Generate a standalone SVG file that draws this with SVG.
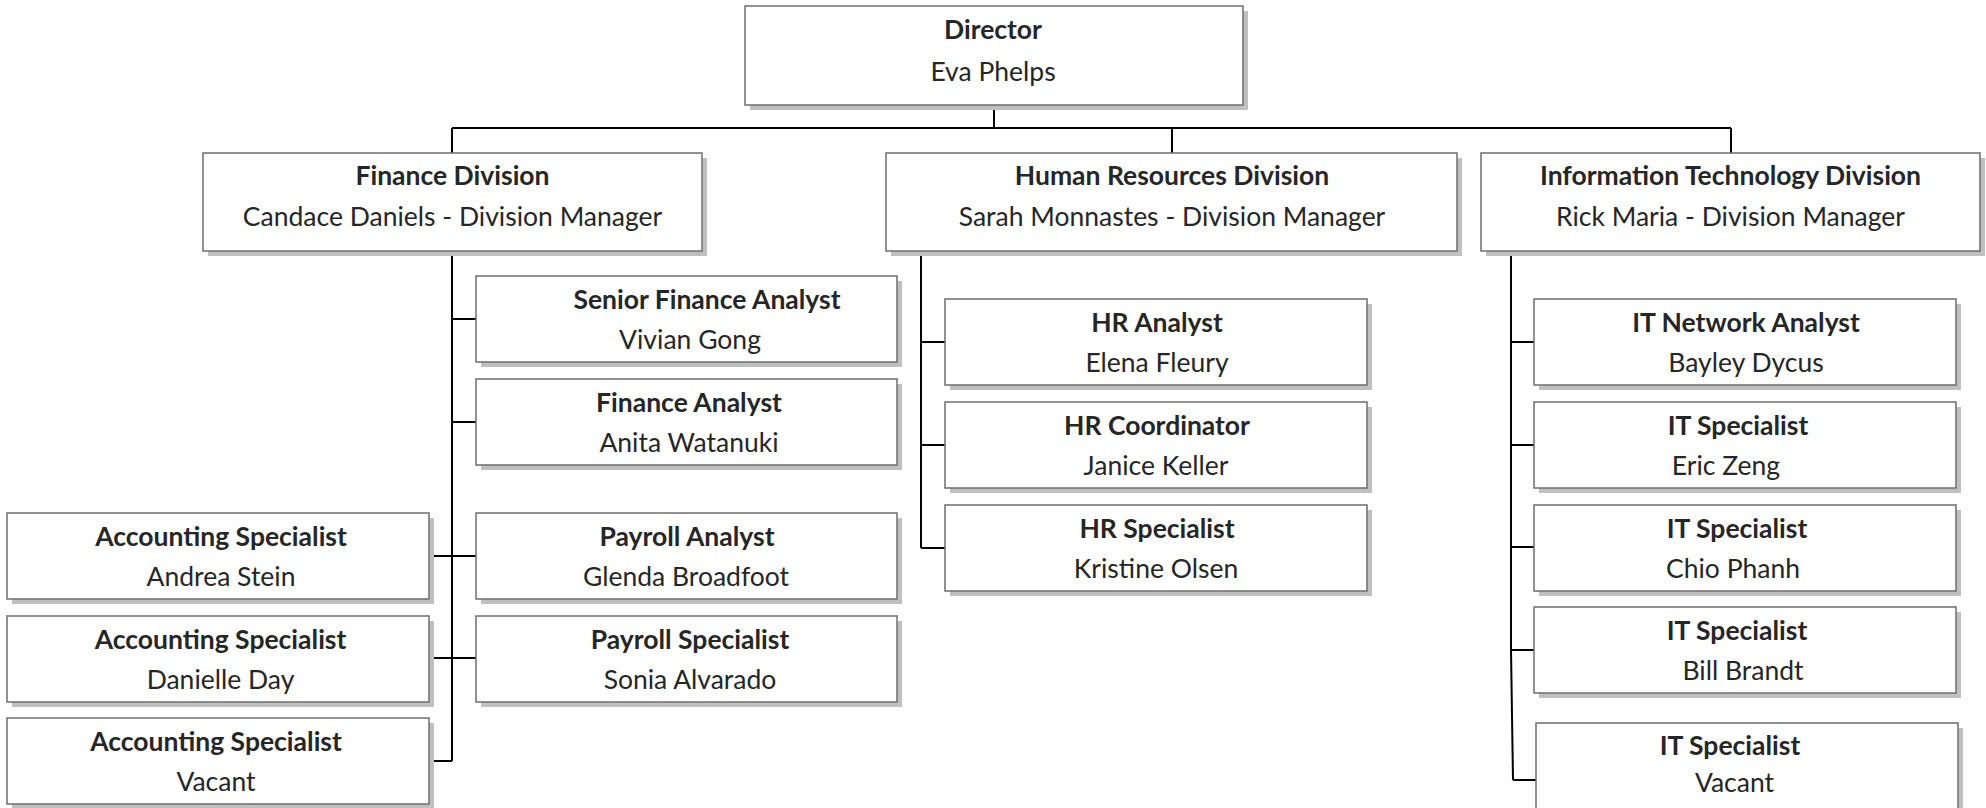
<svg xmlns="http://www.w3.org/2000/svg" width="1986" height="808" viewBox="0 0 1986 808">
<style>
.bx{fill:#fff;stroke:#6d6d6d;stroke-width:1.5}
.sh{fill:#c0c0c0}
.t{font-family:Lato,"Liberation Sans",sans-serif;font-size:26.5px;fill:#262626;text-anchor:middle}
.b{font-weight:bold}
.c{stroke:#000;stroke-width:2;fill:none}
</style>
<rect width="1986" height="808" fill="#fff"/>
<g id="connectors">
<path class="c" d="M994 105V128M452 128H1731M452 128V153M1172 128V153M1731 128V153"/>
<path class="c" d="M452 251V761M452 319H476M452 422H476M452 556H476M452 658H476M429 556H452M429 658H452M429 761H452"/>
<path class="c" d="M921 251V548M921 342H945M921 445H945M921 548H945"/>
<path class="c" d="M1511 251V650L1513 780M1511 342H1534M1511 445H1534M1511 547H1534M1511 650H1534M1513 780H1536"/>
</g>
<g id="director"><rect class="sh" x="750" y="11" width="498" height="99"/><rect class="bx" x="745" y="6" width="498" height="99"/><text class="t b" x="993" y="39">Director</text><text class="t" x="993" y="81">Eva Phelps</text></g>
<g id="finance"><rect class="sh" x="208" y="158" width="499" height="98"/><rect class="bx" x="203" y="153" width="499" height="98"/><text class="t b" x="452.5" y="185">Finance Division</text><text class="t" x="452.5" y="226">Candace Daniels - Division Manager</text></g>
<g id="hr"><rect class="sh" x="891" y="158" width="571" height="98"/><rect class="bx" x="886" y="153" width="571" height="98"/><text class="t b" x="1172" y="185">Human Resources Division</text><text class="t" x="1172" y="226">Sarah Monnastes - Division Manager</text></g>
<g id="it"><rect class="sh" x="1486" y="158" width="499" height="98"/><rect class="bx" x="1481" y="153" width="499" height="98"/><text class="t b" x="1730.5" y="185">Information Technology Division</text><text class="t" x="1730.5" y="226">Rick Maria - Division Manager</text></g>
<g id="senior-finance-analyst"><rect class="sh" x="481" y="281" width="421" height="86"/><rect class="bx" x="476" y="276" width="421" height="86"/><text class="t b" x="707" y="309">Senior Finance Analyst</text><text class="t" x="690" y="349">Vivian Gong</text></g>
<g id="finance-analyst"><rect class="sh" x="481" y="384" width="421" height="86"/><rect class="bx" x="476" y="379" width="421" height="86"/><text class="t b" x="689" y="412">Finance Analyst</text><text class="t" x="689" y="452">Anita Watanuki</text></g>
<g id="payroll-analyst"><rect class="sh" x="481" y="518" width="421" height="86"/><rect class="bx" x="476" y="513" width="421" height="86"/><text class="t b" x="687" y="546">Payroll Analyst</text><text class="t" x="686" y="586">Glenda Broadfoot</text></g>
<g id="payroll-specialist"><rect class="sh" x="481" y="621" width="421" height="86"/><rect class="bx" x="476" y="616" width="421" height="86"/><text class="t b" x="690" y="649">Payroll Specialist</text><text class="t" x="690" y="689">Sonia Alvarado</text></g>
<g id="accounting-1"><rect class="sh" x="12" y="518" width="422" height="86"/><rect class="bx" x="7" y="513" width="422" height="86"/><text class="t b" x="221" y="546">Accounting Specialist</text><text class="t" x="221" y="586">Andrea Stein</text></g>
<g id="accounting-2"><rect class="sh" x="12" y="621" width="422" height="86"/><rect class="bx" x="7" y="616" width="422" height="86"/><text class="t b" x="220.5" y="649">Accounting Specialist</text><text class="t" x="220.5" y="689">Danielle Day</text></g>
<g id="accounting-3"><rect class="sh" x="12" y="723" width="422" height="86"/><rect class="bx" x="7" y="718" width="422" height="86"/><text class="t b" x="216" y="751">Accounting Specialist</text><text class="t" x="216" y="791">Vacant</text></g>
<g id="hr-analyst"><rect class="sh" x="950" y="304" width="422" height="86"/><rect class="bx" x="945" y="299" width="422" height="86"/><text class="t b" x="1157" y="332">HR Analyst</text><text class="t" x="1157" y="372">Elena Fleury</text></g>
<g id="hr-coordinator"><rect class="sh" x="950" y="407" width="422" height="86"/><rect class="bx" x="945" y="402" width="422" height="86"/><text class="t b" x="1157" y="435">HR Coordinator</text><text class="t" x="1156" y="475">Janice Keller</text></g>
<g id="hr-specialist"><rect class="sh" x="950" y="510" width="422" height="86"/><rect class="bx" x="945" y="505" width="422" height="86"/><text class="t b" x="1157" y="538">HR Specialist</text><text class="t" x="1156" y="578">Kristine Olsen</text></g>
<g id="it-network-analyst"><rect class="sh" x="1539" y="304" width="422" height="86"/><rect class="bx" x="1534" y="299" width="422" height="86"/><text class="t b" x="1746" y="332">IT Network Analyst</text><text class="t" x="1746" y="372">Bayley Dycus</text></g>
<g id="it-specialist-1"><rect class="sh" x="1539" y="407" width="422" height="86"/><rect class="bx" x="1534" y="402" width="422" height="86"/><text class="t b" x="1738" y="435">IT Specialist</text><text class="t" x="1726" y="475">Eric Zeng</text></g>
<g id="it-specialist-2"><rect class="sh" x="1539" y="510" width="422" height="86"/><rect class="bx" x="1534" y="505" width="422" height="86"/><text class="t b" x="1737" y="538">IT Specialist</text><text class="t" x="1733" y="578">Chio Phanh</text></g>
<g id="it-specialist-3"><rect class="sh" x="1539" y="612" width="422" height="86"/><rect class="bx" x="1534" y="607" width="422" height="86"/><text class="t b" x="1737" y="640">IT Specialist</text><text class="t" x="1743" y="680">Bill Brandt</text></g>
<g id="it-specialist-4"><rect class="sh" x="1541" y="728" width="422" height="90"/><rect class="bx" x="1536" y="723" width="422" height="90"/><text class="t b" x="1730" y="755" fill="#111">IT Specialist</text><text class="t" x="1734.5" y="792">Vacant</text></g>
</svg>
